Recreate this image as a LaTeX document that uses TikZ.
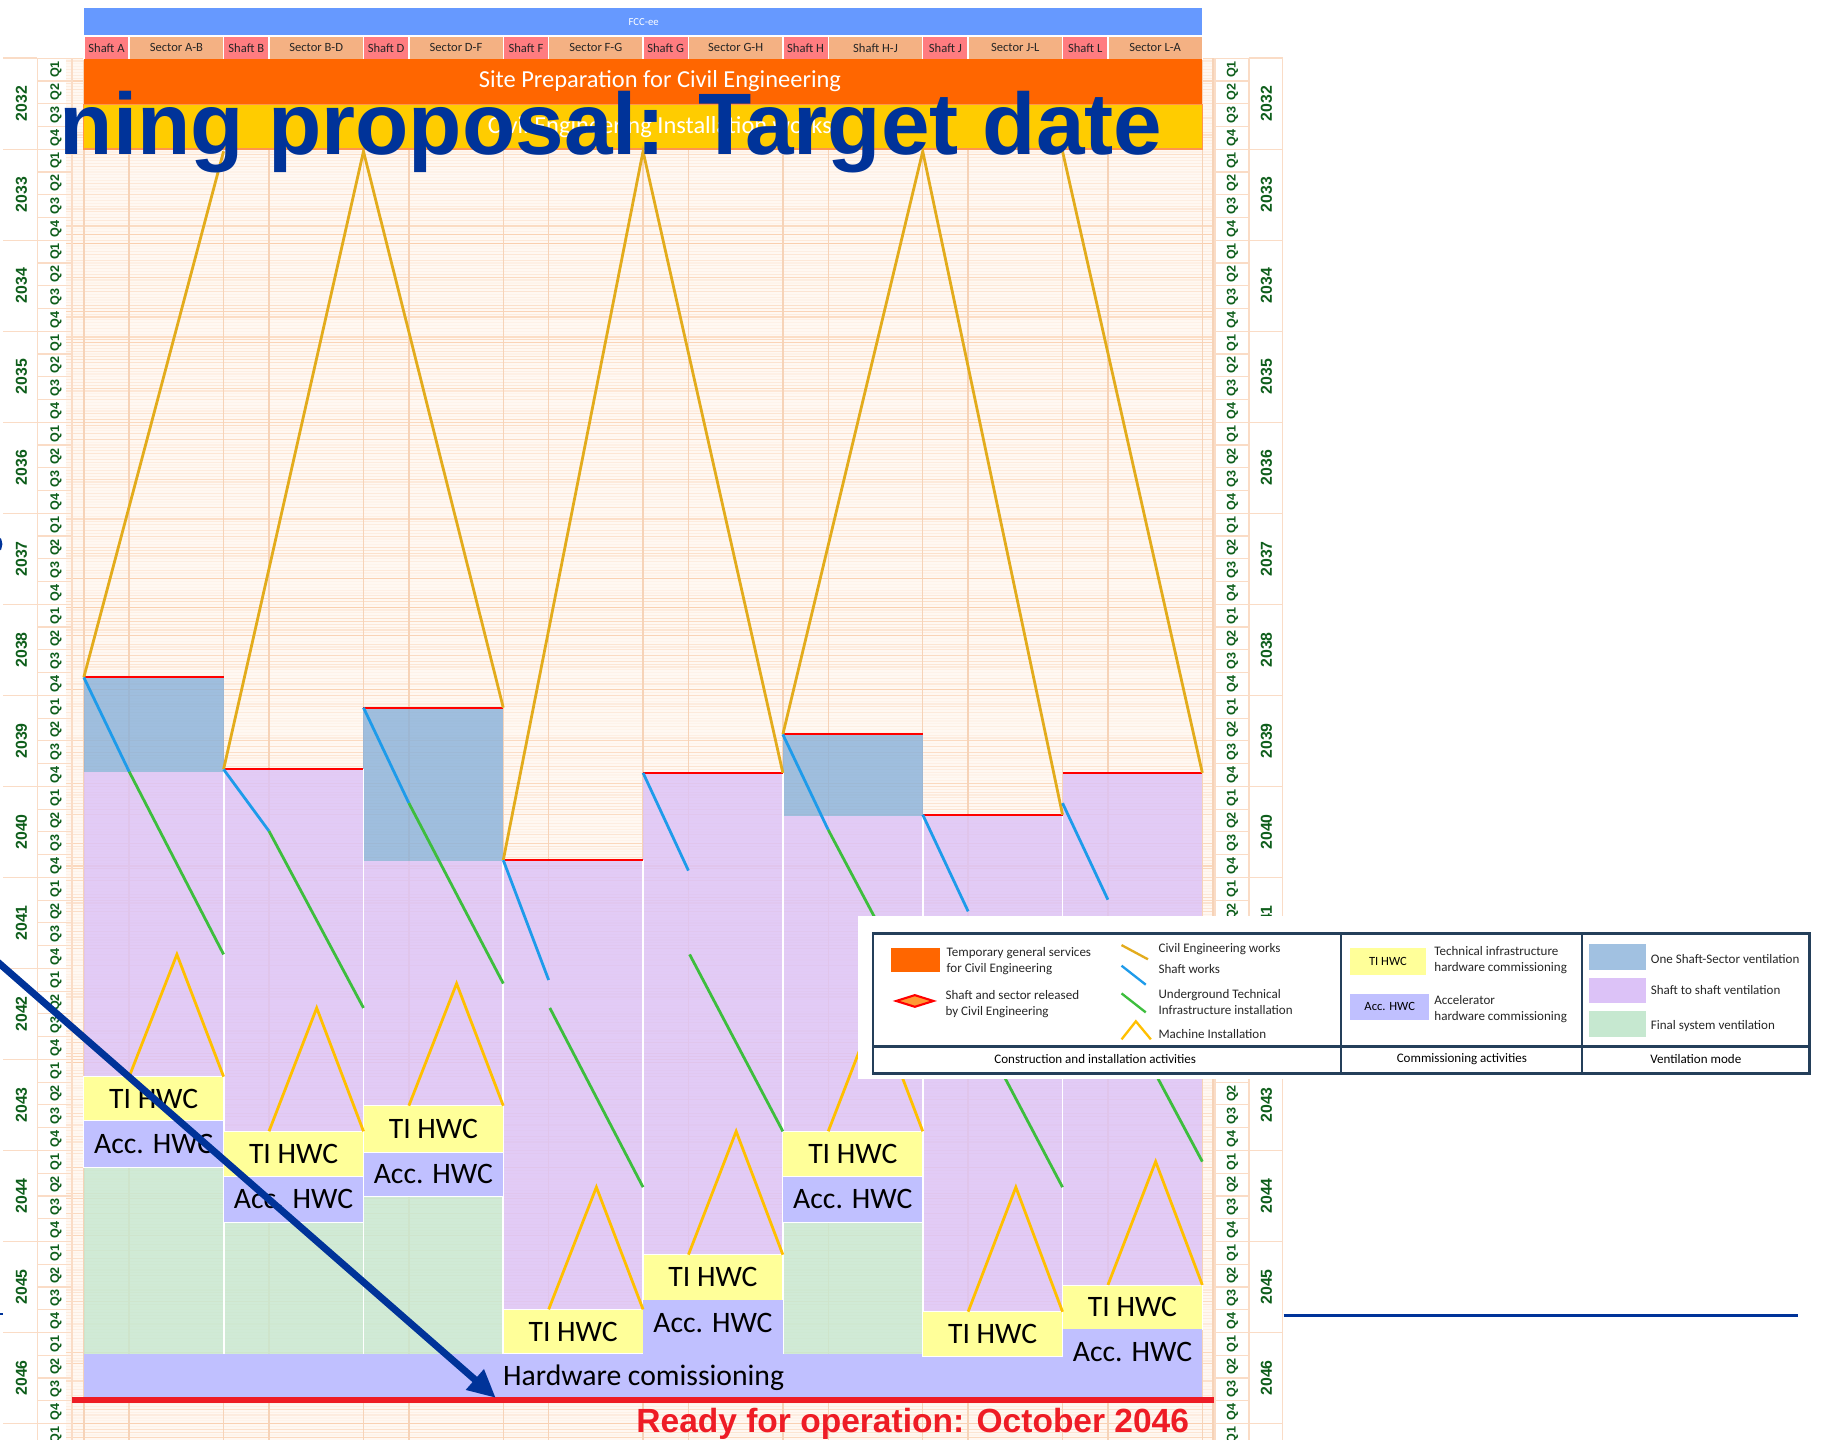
\documentclass[tikz,border=0pt]{standalone}
\usepackage{fontspec}
\setmainfont{Carlito}
\newfontfamily\arialf{Liberation Sans}
\usetikzlibrary{arrows.meta}
\definecolor{headblue}{HTML}{6699FF}
\definecolor{shaftpink}{HTML}{FF7C80}
\definecolor{sectorc}{HTML}{F4B183}
\definecolor{siteorange}{HTML}{FF6600}
\definecolor{ceyellow}{HTML}{FFCC00}
\definecolor{gridc}{HTML}{F7B07A}
\definecolor{vgridc}{HTML}{F6D3B8}
\definecolor{bgpeach}{HTML}{FFF8F2}
\definecolor{ventblue}{HTML}{8AB2DA}
\definecolor{ventpurple}{HTML}{DCC2F7}
\definecolor{ventgreen}{HTML}{C6E8D0}
\definecolor{tiyellow}{HTML}{FFFF99}
\definecolor{acclav}{HTML}{C0C0FF}
\definecolor{cegold}{HTML}{E3AC1C}
\definecolor{shaftblue}{HTML}{1E9BEA}
\definecolor{utigreen}{HTML}{3DBE3D}
\definecolor{miyellow}{HTML}{FFC000}
\definecolor{axisgreen}{HTML}{0E5E1B}
\definecolor{titleblue}{HTML}{003399}
\definecolor{readyred}{HTML}{EE1C25}
\definecolor{legframe}{HTML}{243F5A}
\definecolor{axisline}{HTML}{FADCC6}
\begin{document}
\begin{tikzpicture}[x=0.5pt,y=-0.5pt,
  axisy/.style={rotate=90,text=axisgreen,font=\arialf\bfseries\fontsize{6.8}{7}\selectfont,inner sep=0},
  axisq/.style={rotate=90,text=axisgreen,font=\arialf\bfseries\fontsize{5.4}{6}\selectfont,inner sep=0},
  hcell/.style={font=\fontsize{5.4}{6}\selectfont,text=black!85,inner sep=0},
  hwc/.style={font=\fontsize{12.75}{14}\selectfont,text=black,inner sep=0},
  legtxt/.style={font=\fontsize{5.6}{6.9}\selectfont,align=left,anchor=west,inner sep=0,text=black!85},
  blk/.style={fill opacity=0.82},
  ce/.style={cegold,line width=1.2pt},
  shw/.style={shaftblue,line width=1.2pt},
  uti/.style={utigreen,line width=1.2pt},
  mi/.style={miyellow,line width=1.2pt},
  rel/.style={red,line width=0.9pt},
  boxw/.style={draw=white,line width=0.4pt}]
\useasboundingbox (0,0) rectangle (1568,1237);
\clip (0,0) rectangle (1568,1237);
\fill[white] (0,0) rectangle (1568,1237);
% chart background
\fill[bgpeach] (57,50) rectangle (1044,1237);
\pgfmathsetseed{11}
\foreach \i in {0,...,485}{
  \pgfmathsetmacro\yy{50+\i*2.444}
  \pgfmathsetmacro\op{0.05+0.55*rnd*rnd}
  \draw[gridc,opacity=\op,line width=0.5pt] (57,\yy) -- (1044,\yy);
}
\foreach \xx in {62,72,111,192.1,231.1,312.3,351.3,432.4,471.4,552.5,591.5,672.6,711.6,792.8,831.8,912.9,951.9,1033,1042}{
  \draw[vgridc,line width=0.6pt] (\xx,50) -- (\xx,1237);
}
% axes
\draw[axisline,line width=0.6pt] (32,50) -- (32,1237) (62,50) -- (62,1237);
\draw[axisline,line width=0.6pt] (1044,50) -- (1044,1237) (1073,50) -- (1073,1237) (1102,50) -- (1102,1237);
\foreach \i in {0,...,15}{
  \pgfmathsetmacro\yy{50+78.2*\i}
  \draw[axisline,line width=0.6pt] (3,\yy) -- (32,\yy) (1073,\yy) -- (1102,\yy);
}
\foreach \q in {0,...,60}{
  \pgfmathsetmacro\yy{50+19.55*\q}
  \draw[axisline,line width=0.5pt] (32,\yy) -- (62,\yy) (1044,\yy) -- (1073,\yy);
  \pgfmathsetmacro\yc{50+19.55*\q+9.775}
  \pgfmathtruncatemacro\qq{mod(\q,4)+1}
  \node[axisq] (ql\q) at (48,\yc) {Q\qq};
  \node[axisq] (qr\q) at (1059,\yc) {Q\qq};
}
\foreach \i in {0,...,14}{
  \pgfmathsetmacro\yc{50+78.2*\i+39.1}
  \pgfmathtruncatemacro\yr{2032+\i}
  \node[axisy] (yl\i) at (18.5,\yc) {\yr};
  \node[axisy] (yr\i) at (1088,\yc) {\yr};
}
% header
\fill[headblue] (72,7) rectangle (1033,31);
\node[font=\fontsize{4.6}{5}\selectfont,text=white,inner sep=0] (fcc) at (553,19) {FCC-ee};
\foreach \k/\sh/\se in {0/Shaft A/Sector A-B,1/Shaft B/Sector B-D,2/Shaft D/Sector D-F,3/Shaft F/Sector F-G,4/Shaft G/Sector G-H,5/Shaft H/Shaft H-J,6/Shaft J/Sector J-L,7/Shaft L/Sector L-A}{
  \pgfmathsetmacro\xa{72+120.125*\k}
  \pgfmathsetmacro\xb{\xa+39}
  \pgfmathsetmacro\xc{\xa+120.125}
  \draw[white,line width=0.6pt,fill=shaftpink] (\xa,31) rectangle (\xb,51);
  \draw[white,line width=0.6pt,fill=sectorc] (\xb,31) rectangle (\xc,51);
  \node[hcell] (sh\k) at ({(\xa+\xb)/2},41) {\sh};
  \node[hcell] (se\k) at ({(\xb+\xc)/2},41) {\se};
}
\fill[siteorange] (72,51) rectangle (1033,90);
\draw[fill=ceyellow,draw=siteorange!70,line width=0.5pt] (72,90) rectangle (1033,128);
\node[font=\fontsize{10.5}{12}\selectfont,text=white,inner sep=0] (site) at (567,70) {Site Preparation for Civil Engineering};
\node[font=\fontsize{10.5}{12}\selectfont,text=white,inner sep=0] (inst) at (567,109) {Civil Engineering Installation works};
% ventilation blocks
\begin{scope}[blk]
\fill[ventblue] (72,582) rectangle (192.1,663);
\fill[ventpurple] (72,663) rectangle (192.1,925);
\fill[ventgreen] (72,1003) rectangle (192.1,1163);
\fill[ventpurple] (192.1,661) rectangle (312.3,972);
\fill[ventgreen] (192.1,1050) rectangle (312.3,1163);
\fill[ventblue] (312.3,608) rectangle (432.4,740);
\fill[ventpurple] (312.3,740) rectangle (432.4,950);
\fill[ventgreen] (312.3,1028) rectangle (432.4,1163);
\fill[ventpurple] (432.4,739) rectangle (552.5,1125);
\fill[ventpurple] (552.5,664) rectangle (672.6,1078);
\fill[ventblue] (672.6,631) rectangle (792.8,701);
\fill[ventpurple] (672.6,701) rectangle (792.8,972);
\fill[ventgreen] (672.6,1050) rectangle (792.8,1163);
\fill[ventpurple] (792.8,700) rectangle (912.9,1127);
\fill[ventpurple] (912.9,664) rectangle (1033,1104);
\end{scope}
% column separators
\foreach \xx/\yt in {192.1/661,312.3/661,432.4/739,552.5/739,672.6/664,792.8/700,912.9/700}{
  \draw[white,line width=0.8pt] (\xx,\yt) -- (\xx,1163);
}
% hardware commissioning bar
\fill[acclav] (72,1163) rectangle (1033,1203);
\node[hwc] (hwbar) at (553,1184) {Hardware comissioning};
% commissioning boxes
\draw[boxw,fill=tiyellow] (72,925) rectangle (192.1,963);
\draw[boxw,fill=acclav] (72,963) rectangle (192.1,1003);
\draw[boxw,fill=tiyellow] (192.1,972) rectangle (312.3,1011);
\draw[boxw,fill=acclav] (192.1,1011) rectangle (312.3,1050);
\draw[boxw,fill=tiyellow] (312.3,950) rectangle (432.4,990);
\draw[boxw,fill=acclav] (312.3,990) rectangle (432.4,1028);
\draw[boxw,fill=tiyellow] (432.4,1125) rectangle (552.5,1163);
\draw[boxw,fill=tiyellow] (552.5,1078) rectangle (672.6,1117);
\fill[acclav] (552.5,1117) rectangle (672.6,1163);
\draw[boxw,fill=tiyellow] (672.6,972) rectangle (792.8,1011);
\draw[boxw,fill=acclav] (672.6,1011) rectangle (792.8,1050);
\draw[boxw,fill=tiyellow] (792.8,1127) rectangle (912.9,1165);
\draw[boxw,fill=tiyellow] (912.9,1104) rectangle (1033,1142);
\fill[acclav] (912.9,1142) rectangle (1033,1203);
\node[hwc] (tiA) at (132,944) {TI HWC};
\node[hwc] (acA) at (132,983) {Acc. HWC};
\node[hwc] (tiB) at (252.2,991.5) {TI HWC};
\node[hwc] (acB) at (252.2,1030.5) {Acc. HWC};
\node[hwc] (tiD) at (372.3,970) {TI HWC};
\node[hwc] (acD) at (372.3,1009) {Acc. HWC};
\node[hwc] (tiF) at (492.4,1144) {TI HWC};
\node[hwc] (tiG) at (612.5,1097.5) {TI HWC};
\node[hwc] (acG) at (612.5,1137) {Acc. HWC};
\node[hwc] (tiH) at (732.7,991.5) {TI HWC};
\node[hwc] (acH) at (732.7,1030.5) {Acc. HWC};
\node[hwc] (tiJ) at (852.8,1146) {TI HWC};
\node[hwc] (tiL) at (973,1123) {TI HWC};
\node[hwc] (acL) at (973,1162) {Acc. HWC};
% release lines
\draw[rel] (72,582) -- (192.1,582);
\draw[rel] (192.1,661) -- (312.3,661);
\draw[rel] (312.3,608) -- (432.4,608);
\draw[rel] (432.4,739) -- (552.5,739);
\draw[rel] (552.5,664) -- (672.6,664);
\draw[rel] (672.6,631) -- (792.8,631);
\draw[rel] (792.8,700) -- (912.9,700);
\draw[rel] (912.9,664) -- (1033,664);
% civil engineering works
\draw[ce] (72,582) -- (192.1,130);
\draw[ce] (192.1,661) -- (312.3,130) -- (432.4,608);
\draw[ce] (432.4,739) -- (552.5,130) -- (672.6,664);
\draw[ce] (672.6,631) -- (792.8,130) -- (912.9,700);
\draw[ce] (912.9,130) -- (1033,664);
% shaft works
\draw[shw] (72,582) -- (111,663);
\draw[shw] (192.1,661) -- (231.1,714);
\draw[shw] (312.3,608) -- (351.3,690);
\draw[shw] (432.4,739) -- (471.4,842);
\draw[shw] (552.5,664) -- (591.5,748);
\draw[shw] (672.6,631) -- (711.6,713);
\draw[shw] (792.8,700) -- (831.8,783);
\draw[shw] (912.9,690) -- (951.9,773);
% underground TI installation
\draw[uti] (111,663) -- (192.1,820);
\draw[uti] (231.1,714) -- (312.3,866);
\draw[uti] (351.3,690) -- (432.4,845);
\draw[uti] (472.4,866) -- (552.5,1020);
\draw[uti] (592.5,820) -- (672.6,972);
\draw[uti] (711.6,713) -- (792.8,866);
\draw[uti] (832.8,868) -- (912.9,1020);
\draw[uti] (952.9,848) -- (1033,998);
% machine installation
\draw[mi] (111,925) -- (152,820) -- (192.1,925);
\draw[mi] (231.1,972) -- (272.1,866) -- (312.3,972);
\draw[mi] (351.3,950) -- (392.3,845) -- (432.4,950);
\draw[mi] (471.4,1125) -- (512.4,1020) -- (552.5,1125);
\draw[mi] (591.5,1078) -- (632.5,972) -- (672.6,1078);
\draw[mi] (711.6,972) -- (752.6,866) -- (792.8,972);
\draw[mi] (831.8,1127) -- (872.8,1020) -- (912.9,1127);
\draw[mi] (951.9,1104) -- (992.9,998) -- (1033,1104);
% ready line
\draw[readyred,line width=2.5pt] (62,1203) -- (1043,1203);
\node[anchor=base east,inner sep=0,text=readyred,font=\arialf\bfseries\fontsize{14.4}{16}\selectfont] (ready) at (1022,1231) {Ready for operation: October 2046};
% legend
\fill[white] (737,787) rectangle (1562,927);
\draw[legframe,line width=1.2pt] (750,802) rectangle (1555,922);
\draw[legframe,line width=1.2pt] (750,899) -- (1555,899);
\draw[legframe,line width=0.8pt] (1152,802) -- (1152,922) (1359,802) -- (1359,922);
\fill[siteorange] (765.6,814.6) rectangle (807.6,834.8);
\node[legtxt] (l1) at (813,826) {Temporary general services\\for Civil Engineering};
\draw[red,line width=0.9pt,fill=orange!80] (770,860) -- (786,855) -- (802,860) -- (786,865) -- cycle;
\node[legtxt] (l2) at (812,862.5) {Shaft and sector released\\by Civil Engineering};
\draw[ce,line width=1pt] (963.6,812) -- (986.3,824.2);
\draw[shw,line width=1pt] (963.6,829.7) -- (984.4,846);
\draw[uti,line width=1pt] (963.6,853.5) -- (984.4,869.8);
\draw[mi,line width=1pt] (963.6,893) -- (975.9,877.5) -- (988.8,893);
\node[legtxt] (l3) at (995,815) {Civil Engineering works};
\node[legtxt] (l4) at (995,832.5) {Shaft works};
\node[legtxt] (l5) at (995,861) {Underground Technical\\Infrastructure installation};
\node[legtxt] (l6) at (995,888) {Machine Installation};
\fill[tiyellow] (1160,814.6) rectangle (1225,837.8);
\node[font=\fontsize{5.4}{6}\selectfont,inner sep=0] (lti) at (1192.5,826.2) {TI HWC};
\fill[acclav] (1160,854) rectangle (1228,876);
\node[font=\fontsize{5.4}{6}\selectfont,inner sep=0] (lacc) at (1194,865) {Acc. HWC};
\node[legtxt] (l7) at (1232,825) {Technical infrastructure\\hardware commissioning};
\node[legtxt] (l8) at (1232,867) {Accelerator\\hardware commissioning};
\fill[ventblue!80] (1365,811) rectangle (1414,833.5);
\fill[ventpurple] (1365,840) rectangle (1414,862);
\fill[ventgreen] (1365,868.6) rectangle (1414,890.7);
\node[legtxt] (l9) at (1418,824) {One Shaft-Sector ventilation};
\node[legtxt] (l10) at (1418,850.6) {Shaft to shaft ventilation};
\node[legtxt] (l11) at (1418,881.5) {Final system ventilation};
\node[font=\fontsize{5.6}{6.5}\selectfont,inner sep=0] (c1) at (941,910) {Construction and installation activities};
\node[font=\fontsize{5.6}{6.5}\selectfont,inner sep=0] (c2) at (1256,910) {Commissioning activities};
\node[font=\fontsize{5.6}{6.5}\selectfont,inner sep=0] (c3) at (1457,910) {Ventilation mode};
% overlaid slide elements
\node[anchor=base east,inner sep=0,text=titleblue,font=\arialf\bfseries\fontsize{37.5}{40}\selectfont] (title) at (999,133) {ning proposal: Target date};
\coordinate (arrS) at (-30,802);
\coordinate (arrE) at (426,1201);
\draw[titleblue,line width=3pt,-{Triangle[length=12pt,width=11pt]}] (arrS) -- (arrE);
\coordinate (hlS) at (1103,1130);
\coordinate (hlE) at (1545,1130);
\draw[titleblue,line width=1.1pt] (hlS) -- (hlE);
\draw[titleblue,line width=1pt] (-2,1129) -- (3,1129);
\draw[titleblue,line width=2pt] (-3,462) to[bend left=70] (-3,473);
\end{tikzpicture}
\end{document}
